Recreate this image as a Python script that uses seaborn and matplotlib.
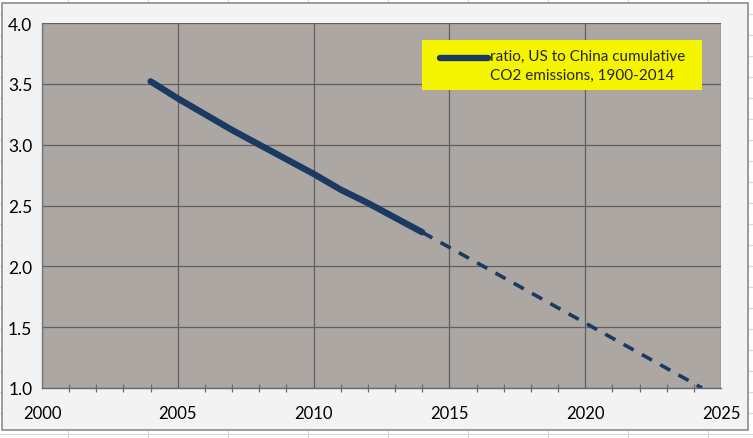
import numpy as np
import pandas as pd
import matplotlib
matplotlib.use("Agg")
import matplotlib.pyplot as plt
import seaborn as sns
from matplotlib.patches import Rectangle
from matplotlib.lines import Line2D
from matplotlib.path import Path
from matplotlib.ticker import MultipleLocator
from matplotlib.legend_handler import HandlerLine2D

# data
years = [2004, 2005, 2006, 2007, 2008, 2009, 2010, 2011, 2012, 2013, 2014]
ratio = [3.52, 3.38, 3.25, 3.12, 3.00, 2.88, 2.76, 2.63, 2.52, 2.40, 2.28]
proj_years = [2014, 2024.3]
proj_ratio = [2.28, 1.00]
legend_label = "ratio, US to China cumulative\nCO2 emissions, 1900-2014"
x_ticks = [2000, 2005, 2010, 2015, 2020, 2025]
y_ticks = [1.0, 1.5, 2.0, 2.5, 3.0, 3.5, 4.0]

line_color = "#1b3a63"
plot_bg = "#aca7a3"
grid_color = "#625f5c"


class HandlerFirstLine(HandlerLine2D):
    # put the legend line next to the first text line, like Excel does
    def create_artists(self, legend, orig_handle, xdescent, ydescent,
                       width, height, fontsize, trans):
        return super().create_artists(legend, orig_handle, xdescent, ydescent - 10.5,
                                      width, height, fontsize, trans)


def excel_box(x0, y0, width, height, mutation_size):
    # plain rectangle with extra room left and right of the legend content
    left, right = 10, 8
    verts = [(x0 - left, y0), (x0 + width + right, y0),
             (x0 + width + right, y0 + height), (x0 - left, y0 + height), (x0 - left, y0)]
    return Path(verts, closed=True)


sns.set_style("white")
plt.rcParams["font.family"] = ["Lato", "DejaVu Sans"]

df = pd.DataFrame({"year": years, "ratio": ratio})
df_proj = pd.DataFrame({"year": proj_years, "ratio": proj_ratio})

fig = plt.figure(figsize=(7.53, 4.39), dpi=100, facecolor="white")

# spreadsheet cell lines behind the chart
for xv in np.arange(68, 753, 80):
    fig.add_artist(Line2D([xv / 753, xv / 753], [0, 1], color="#d6d6d6", lw=0.8, zorder=0))
for yv in np.arange(15, 439, 21):
    fig.add_artist(Line2D([0, 1], [1 - yv / 439, 1 - yv / 439], color="#d6d6d6", lw=0.8, zorder=0))

# chart area box
fig.add_artist(Rectangle((2 / 753, 1 - 431 / 439), 746 / 753, 427 / 439,
                         transform=fig.transFigure, facecolor="#f3f3f3",
                         edgecolor="#8c8c8c", lw=1.2, zorder=1))

ax = fig.add_axes([42 / 753, 50 / 439, 679 / 753, 365 / 439])
ax.set_zorder(2)
ax.set_facecolor(plot_bg)

sns.lineplot(data=df, x="year", y="ratio", ax=ax, color=line_color, lw=4.6,
             solid_capstyle="round", label=legend_label)
sns.lineplot(data=df_proj, x="year", y="ratio", ax=ax, color=line_color, lw=2.6,
             linestyle=(0, (3.2, 2.6)), legend=False)

ax.set_xlim(2000, 2025)
ax.set_ylim(1.0, 4.0)
ax.set_xticks(x_ticks)
ax.set_yticks(y_ticks)
ax.set_yticklabels([f"{v:.1f}" for v in y_ticks])
ax.xaxis.set_minor_locator(MultipleLocator(1))
ax.grid(True, which="major", color=grid_color, lw=0.9)
ax.set_axisbelow(True)
ax.set_xlabel("")
ax.set_ylabel("")

for side in ["top", "right"]:
    ax.spines[side].set_visible(False)
ax.spines["left"].set_color("#777777")
ax.spines["bottom"].set_color("#6a6a6a")
ax.spines["left"].set_linewidth(1.0)
ax.spines["bottom"].set_linewidth(1.0)

ax.tick_params(axis="x", which="major", direction="inout", length=8, width=0.9,
               color="#6a6a6a", labelsize=12, pad=8)
ax.tick_params(axis="x", which="minor", direction="inout", length=6, width=0.9,
               color="#6a6a6a", bottom=True)
ax.tick_params(axis="y", which="major", direction="out", length=4, width=0.9,
               color="#6a6a6a", labelsize=12.5, pad=3)
for lab in ax.get_xticklabels() + ax.get_yticklabels():
    lab.set_color("black")

handles, labels = ax.get_legend_handles_labels()
leg = ax.legend(handles, labels, loc="upper left", bbox_to_anchor=(0.5744, 0.953),
                frameon=True, fancybox=False, facecolor="#f5f500", edgecolor="#f5f500",
                fontsize=11, handlelength=3.1, handletextpad=0.15,
                borderpad=0.55, borderaxespad=0, framealpha=1,
                handler_map={handles[0]: HandlerFirstLine()})
leg.get_frame().set_linewidth(0)
leg.get_frame().set_boxstyle(excel_box)
for t in leg.get_texts():
    t.set_linespacing(1.45)

fig.savefig("out.png", dpi=100, facecolor="white")
